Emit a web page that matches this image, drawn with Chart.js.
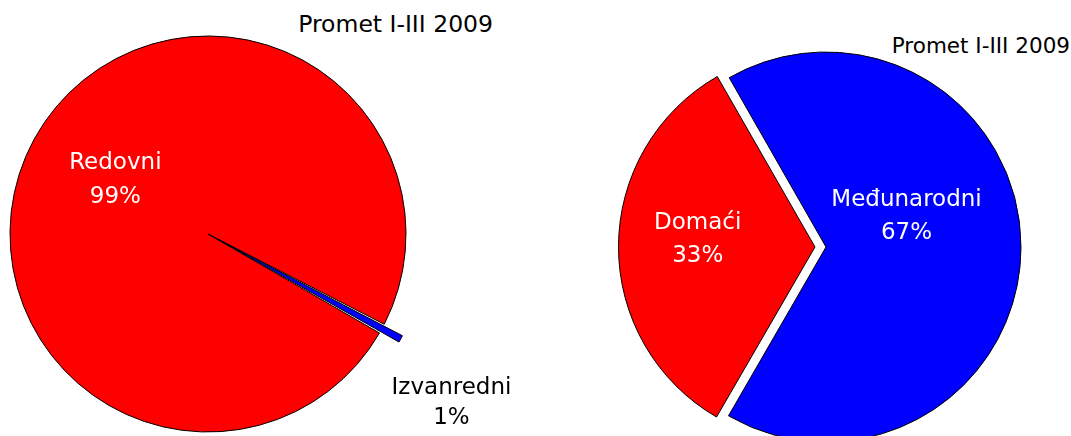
<!DOCTYPE html>
<html>
<head>
<meta charset="utf-8">
<script src="https://cdn.jsdelivr.net/npm/chart.js@4"></script>
<style>
  html, body { margin: 0; padding: 0; background: #fff; overflow: hidden; }
  body { width: 1071px; height: 436px; position: relative; font-family: "DejaVu Sans", sans-serif; }
  canvas { position: absolute; }
  #leftChart { left: 0; top: 0; }
  #rightChart { left: 596px; top: 47px; }
  .title { position: absolute; color: #000; white-space: nowrap; line-height: 1; }
  #leftTitle { right: 578px; top: 13px; font-size: 23.5px; }
  #rightTitle { right: 1px; top: 35px; font-size: 21.5px; }
</style>
</head>
<body>
<div class="title" id="leftTitle">Promet I-III 2009</div>
<div class="title" id="rightTitle">Promet I-III 2009</div>
<canvas id="leftChart" width="540" height="436"></canvas>
<canvas id="rightChart" width="460" height="400"></canvas>
<script>
// left pie: regular vs extraordinary traffic
const typeLabels = ["Redovni", "Izvanredni"];
const typeValues = [99.2, 0.8];

// right pie: domestic vs international traffic
const routeLabels = ["Domaći", "Međunarodni"];
const routeValues = [33.4, 66.6];

const RED = "#FF0000";
const BLUE = "#0000FF";

// draws "name\nNN%" for every slice, placed from the arc's own geometry
const sliceLabels = {
  id: "sliceLabels",
  afterDatasetsDraw(chart, args, opts) {
    const ctx = chart.ctx;
    const ds = chart.data.datasets[0];
    const total = ds.data.reduce((a, b) => a + b, 0);
    const meta = chart.getDatasetMeta(0);
    meta.data.forEach((arc, i) => {
      const p = arc.getProps(["x", "y", "startAngle", "endAngle", "outerRadius"], true);
      const mid = (p.startAngle + p.endAngle) / 2;
      const place = opts.place[i];
      const x = p.x + Math.cos(mid) * p.outerRadius * place.r + (place.dx || 0);
      const y = p.y + Math.sin(mid) * p.outerRadius * place.r + (place.dy || 0);
      const pct = Math.round(ds.data[i] / total * 100) + "%";
      const lh = place.lineHeight || opts.lineHeight;
      ctx.save();
      ctx.font = opts.font;
      ctx.fillStyle = place.color;
      ctx.textAlign = "center";
      ctx.textBaseline = "middle";
      ctx.fillText(chart.data.labels[i], x, y - lh / 2);
      ctx.fillText(pct, x, y + lh / 2);
      ctx.restore();
    });
  }
};

function pieOptions(padding, labelOpts) {
  return {
    responsive: false,
    animation: false,
    events: [],
    layout: { padding: padding },
    plugins: {
      legend: { display: false },
      tooltip: { enabled: false },
      title: { display: false },
      sliceLabels: labelOpts
    }
  };
}

// note: chart.js moves an exploded arc by offset/4
new Chart(document.getElementById("leftChart"), {
  type: "pie",
  data: {
    labels: typeLabels,
    datasets: [{
      data: typeValues,
      backgroundColor: [RED, BLUE],
      borderColor: "#000",
      borderWidth: 1,
      offset: [0, 44],
      radius: 198,
      rotation: 120
    }]
  },
  options: pieOptions({ top: 32, right: 124, left: 0, bottom: 0 }, {
    font: "23px 'DejaVu Sans'",
    lineHeight: 34,
    place: [
      { r: 0.55, dx: 3, dy: -2, color: "#fff" },
      { r: 1.4, dy: 37, color: "#000", lineHeight: 30 }
    ]
  }),
  plugins: [sliceLabels]
});

new Chart(document.getElementById("rightChart"), {
  type: "pie",
  data: {
    labels: routeLabels,
    datasets: [{
      data: routeValues,
      backgroundColor: [RED, BLUE],
      borderColor: "#000",
      borderWidth: 1,
      offset: [44, 0],
      radius: 195,
      rotation: 210
    }]
  },
  options: pieOptions({ left: 30, right: 30, top: 0, bottom: 0 }, {
    font: "23px 'DejaVu Sans'",
    lineHeight: 33,
    place: [
      { r: 0.658, dy: -7.5, color: "#fff" },
      { r: 0.413, dy: -30.5, color: "#fff" }
    ]
  }),
  plugins: [sliceLabels]
});
</script>
</body>
</html>
